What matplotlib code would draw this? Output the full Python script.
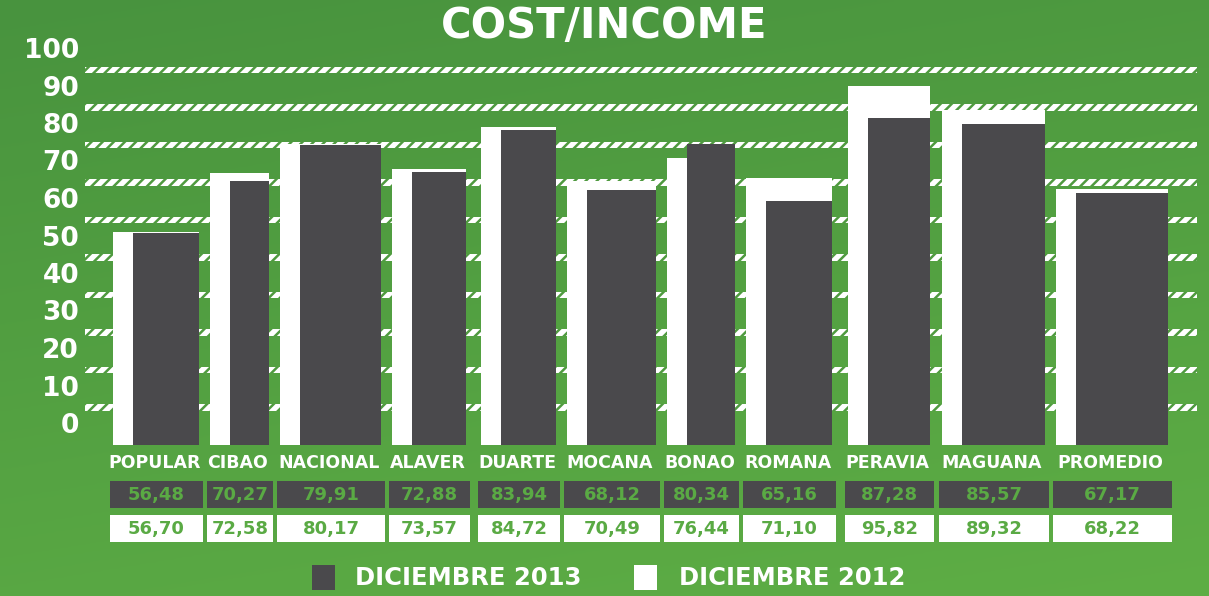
import numpy as np
import matplotlib
matplotlib.use('Agg')
import matplotlib.pyplot as plt
from matplotlib.patches import Rectangle
import matplotlib.transforms as mtransforms

# data
categories = ['POPULAR', 'CIBAO', 'NACIONAL', 'ALAVER', 'DUARTE', 'MOCANA',
              'BONAO', 'ROMANA', 'PERAVIA', 'MAGUANA', 'PROMEDIO']
dic_2013 = [56.48, 70.27, 79.91, 72.88, 83.94, 68.12, 80.34, 65.16, 87.28, 85.57, 67.17]
dic_2012 = [56.70, 72.58, 80.17, 73.57, 84.72, 70.49, 76.44, 71.10, 95.82, 89.32, 68.22]
yticks = list(range(0, 101, 10))

# layout (pixel columns of the infographic)
col_left = [110, 207, 277, 389, 478, 564, 664, 743, 845, 939, 1053]
col_right = [203, 273, 385, 470, 560, 660, 739, 836, 934, 1049, 1172]
W, H = 1209, 596
dark = '#4a494c'
green_txt = '#5aaa44'
plt.rcParams['hatch.linewidth'] = 1.8
plt.rcParams['font.family'] = ['DejaVu Sans']

fig = plt.figure(figsize=(W / 100, H / 100), dpi=100)

# background gradient
bg = fig.add_axes([0, 0, 1, 1])
yy, xx = np.mgrid[0:1:200j, 0:1:200j]
t = 0.75 * yy + 0.25 * xx
c0 = np.array([0x48, 0x93, 0x3e]) / 255
c1 = np.array([0x5e, 0xae, 0x45]) / 255
img = c0[None, None, :] * (1 - t[..., None]) + c1[None, None, :] * t[..., None]
bg.imshow(img, extent=[0, 1, 0, 1], aspect='auto', origin='upper')
bg.axis('off')

# bars axes: value 0 at pixel 445, 3.75 px per unit
zero_px, ppu = 445, 3.75
ymax = 102
ax = fig.add_axes([0, (H - zero_px) / H, 1, ymax * ppu / H])
ax.set_xlim(0, W)
ax.set_ylim(0, ymax)
ax.axis('off')

# hatched gridlines
for v in yticks[1:]:
    ax.add_patch(Rectangle((85, v - 0.9), 1197 - 85, 1.8, facecolor='white',
                           edgecolor='#4f9a3f', hatch='///', linewidth=0, zorder=1))

lefts = np.array(col_left) + 3
rights = np.array(col_right) - 4
ax.bar(lefts, dic_2012, width=rights - lefts, align='edge', color='white', zorder=2)
ax.bar(lefts + 20, dic_2013, width=rights - lefts - 20, align='edge', color=dark, zorder=3)

# y labels (shifted above their gridlines as in the original)
off = mtransforms.ScaledTranslation(0, 0.19, fig.dpi_scale_trans)
for v in yticks:
    ax.text(79, v, str(v), transform=ax.transData + off, ha='right', va='center',
            color='white', fontsize=19, fontweight='bold', clip_on=False)

# overlay in pixel coordinates
ov = fig.add_axes([0, 0, 1, 1])
ov.set_xlim(0, W)
ov.set_ylim(H, 0)
ov.axis('off')
ov.patch.set_alpha(0)

ov.text(604, 26, 'COST/INCOME', ha='center', va='center', color='white',
        fontsize=30, fontweight='bold')

for i, name in enumerate(categories):
    cx = (col_left[i] + col_right[i]) / 2
    ov.text(cx - 2, 463, name, ha='center', va='center', color='white',
            fontsize=12.5, fontweight='bold')
    ov.add_patch(Rectangle((col_left[i], 481), col_right[i] - col_left[i], 27,
                           facecolor=dark, edgecolor='none'))
    ov.add_patch(Rectangle((col_left[i], 515), col_right[i] - col_left[i], 27,
                           facecolor='white', edgecolor='none'))
    ov.text(cx, 495, f'{dic_2013[i]:.2f}'.replace('.', ','), ha='center', va='center',
            color=green_txt, fontsize=13, fontweight='bold')
    ov.text(cx, 529, f'{dic_2012[i]:.2f}'.replace('.', ','), ha='center', va='center',
            color=green_txt, fontsize=13, fontweight='bold')

# legend
ov.add_patch(Rectangle((312, 565), 23, 25, facecolor=dark, edgecolor='none'))
ov.text(355, 578, 'DICIEMBRE 2013', ha='left', va='center', color='white',
        fontsize=17.5, fontweight='bold')
ov.add_patch(Rectangle((634, 565), 23, 25, facecolor='white', edgecolor='none'))
ov.text(679, 578, 'DICIEMBRE 2012', ha='left', va='center', color='white',
        fontsize=17.5, fontweight='bold')

fig.savefig('out.png', dpi=100)
